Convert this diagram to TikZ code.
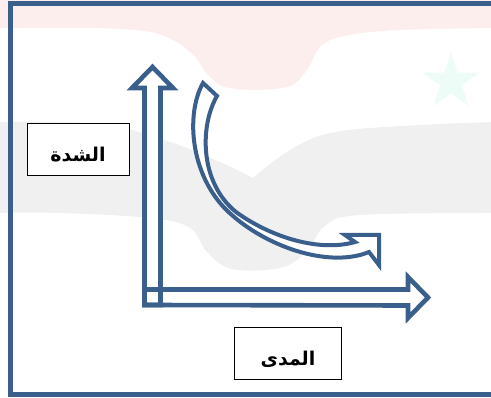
\documentclass[tikz,border=0pt]{standalone}
\usepackage{fontspec}
\newfontfamily\arabicfont[Script=Arabic]{DejaVu Sans}
\TeXXeTstate=1
\definecolor{axisblue}{HTML}{3A5F8C}
\definecolor{flagred}{HTML}{FDEEEE}
\definecolor{flaggray}{HTML}{F0F0F0}
\definecolor{flaggreen}{HTML}{EDFCF6}
\tikzset{
  blockarrow/.style={draw=axisblue, line width=4.6pt, line join=miter},
  bendarrow/.style={draw=axisblue, line width=4pt, fill=white, line join=miter},
  labelbox/.style={draw=black, line width=0.9pt, fill=white, inner sep=0pt},
  labeltext/.style={font=\arabicfont\bfseries\fontsize{19}{22}\selectfont, text=black}
}
\begin{document}
\begin{tikzpicture}[x=1pt,y=-1pt]
\useasboundingbox (0,0) rectangle (491,398);
\clip (0,0) rectangle (491,398);

% faint flag watermark
\fill[flagred] (-5,0) -- (496,0) -- (496,28)
  -- plot[smooth, tension=0.6] coordinates {(496,28) (400,30) (350,35) (322,45) (307,70) (290,86) (255,90) (225,87) (208,75) (195,57) (178,43) (150,32) (100,28)}
  -- (-5,28) -- cycle;
\fill[flaggray] (-5,122)
  -- plot[smooth, tension=0.6] coordinates {(-5,122) (100,124) (170,142) (220,162) (253,178)}
  -- plot[smooth, tension=0.6] coordinates {(253,178) (290,150) (335,132) (420,125) (496,122)}
  -- (496,213)
  -- plot[smooth, tension=0.6] coordinates {(496,213) (360,215) (325,226) (306,252) (280,268) (232,269) (207,252) (190,228) (150,218) (60,213) (-5,213)}
  -- cycle;
\fill[flaggreen] (451,52) -- (457.6,72.6) -- (479.5,72.6) -- (461.8,85.4) -- (468.6,106.2)
  -- (451,93.4) -- (433.4,106.2) -- (440.2,85.4) -- (422.5,72.6) -- (444.4,72.6) -- cycle;

% frame (its right side runs off the page)
\draw[axisblue, line width=4.6pt] (520,3.5) -- (10.5,3.5) -- (10.5,394.5) -- (520,394.5);

% axes as hollow block arrows
\coordinate (origin) at (144.5,305);
\coordinate (ytip) at (152.5,67);
\coordinate (xtip) at (428,297.5);
\fill[white] (origin) -- (144.5,88) -- (132,88) -- (ytip) -- (173,88) -- (160.5,88) -- (160.5,305) -- cycle;
\fill[white] (origin) -- (144.5,289.5) -- (408,289.5) -- (408,277) -- (xtip) -- (408,318) -- (408,305.5) -- cycle;
\draw[blockarrow] (origin) -- (144.5,88) -- (132,88) -- (ytip) -- (173,88) -- (160.5,88) -- (160.5,305) -- cycle;
\draw[blockarrow] (origin) -- (144.5,289.5) -- (408,289.5) -- (408,277) -- (xtip) -- (408,318) -- (408,305.5) -- cycle;

% curved decay arrow
\coordinate (tailin) at (217,96);
\coordinate (tailout) at (203,83);
\coordinate (headtip) at (379,235);
\draw[bendarrow] (tailin) -- (tailout)
  .. controls (185,115) and (190,180) .. (233,216)
  .. controls (270,248) and (330,268) .. (369,252)
  -- (379,265) -- (headtip) -- (345,235) -- (355,242)
  .. controls (320,252) and (272,238) .. (236,212)
  .. controls (199,182) and (200,125) .. (tailin)
  -- cycle;

% axis labels
\node[labelbox, minimum width=102pt, minimum height=52pt] (intensity) at (78,149) {};
\node[labeltext] (intensitytext) at (78,155) {\beginR الشدة\endR};
\node[labelbox, minimum width=107pt, minimum height=52pt] (range) at (287.5,353) {};
\node[labeltext] (rangetext) at (288,359) {\beginR المدى\endR};
\end{tikzpicture}
\end{document}
